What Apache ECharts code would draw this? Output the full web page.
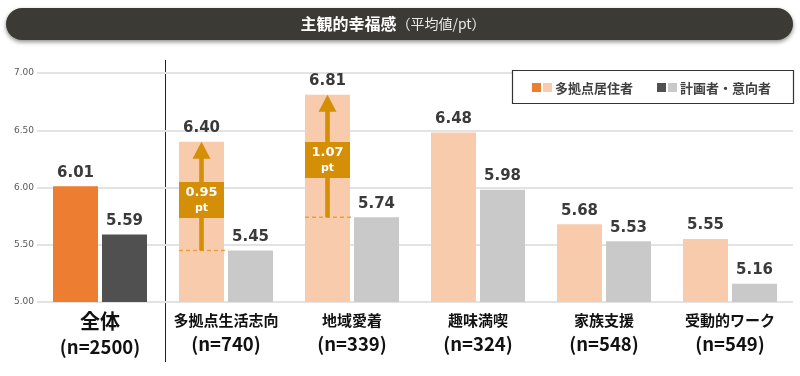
<!DOCTYPE html>
<html>
<head>
<meta charset="utf-8">
<script src="https://cdn.jsdelivr.net/npm/echarts@6/dist/echarts.min.js"></script>
<style>
  html, body { margin: 0; padding: 0; background: #fff; }
  #chart { width: 800px; height: 376px; }
</style>
</head>
<body>
<div id="chart"></div>
<script>
// data
const categories = ['全体', '多拠点生活志向', '地域愛着', '趣味満喫', '家族支援', '受動的ワーク'];
const sampleSizes = [2500, 740, 339, 324, 548, 549];
const residents = [6.01, 6.40, 6.81, 6.48, 5.68, 5.55];
const planners = [5.59, 5.45, 5.74, 5.98, 5.53, 5.16];
const highlighted = [1, 2];
const yTicks = [5, 5.5, 6, 6.5, 7];

const GOLD = '#D48F06';
const BAR_W = 45;
const BAR_GAP = 4;

const chartDom = document.getElementById('chart');
const myChart = echarts.init(chartDom);

const gapData = highlighted.map(i => [i, planners[i], residents[i], residents[i] - planners[i]]);

function renderGap(params, api) {
    const idx = api.value(0);
    const lo = api.coord([idx, api.value(1)]);
    const hi = api.coord([idx, api.value(2)]);
    const diff = api.value(3);
    const x = lo[0] - (BAR_W + BAR_GAP) / 2;
    const half = BAR_W / 2;
    const mid = (lo[1] + hi[1]) / 2 + 4;
    return {
        type: 'group',
        children: [
            {
                type: 'line',
                shape: { x1: x - half, y1: lo[1], x2: x + half + 3, y2: lo[1] },
                style: { stroke: '#E9A23B', lineWidth: 1.5, lineDash: [4, 3] }
            },
            {
                type: 'rect',
                shape: { x: x - 2.3, y: hi[1] + 15, width: 4.6, height: lo[1] - hi[1] - 15 },
                style: { fill: GOLD }
            },
            {
                type: 'polygon',
                shape: { points: [[x, hi[1]], [x - 9, hi[1] + 17], [x + 9, hi[1] + 17]] },
                style: { fill: GOLD }
            },
            {
                type: 'rect',
                shape: { x: x - half, y: mid - 18, width: BAR_W, height: 36 },
                style: { fill: GOLD }
            },
            {
                type: 'text',
                x: x,
                y: mid,
                style: {
                    text: '{a|' + diff.toFixed(2) + '}\n{b|pt}',
                    align: 'center',
                    verticalAlign: 'middle',
                    rich: {
                        a: { fill: '#fff', fontSize: 13, fontWeight: 'bold', fontFamily: 'DejaVu Sans', lineHeight: 16 },
                        b: { fill: '#fff', fontSize: 11, fontWeight: 'bold', fontFamily: 'DejaVu Sans', lineHeight: 14 }
                    }
                }
            }
        ]
    };
}

const valueLabel = {
    show: true,
    position: 'top',
    distance: 6,
    color: '#3a3a3a',
    fontSize: 15,
    fontWeight: 'bold',
    fontFamily: 'DejaVu Sans',
    formatter: p => p.value.toFixed(2)
};

const option = {
    animation: false,
    grid: { left: 37, right: 7, top: 73, bottom: 74 },
    xAxis: {
        type: 'category',
        data: categories,
        axisLine: { show: false },
        axisTick: { show: false },
        axisLabel: {
            margin: 7,
            interval: 0,
            formatter: function(value, i) {
                const n = '(n=' + sampleSizes[i] + ')';
                if (i === 0) return '{big|' + value + '}\n{bign|' + n + '}';
                return '{name|' + value + '}\n{n|' + n + '}';
            },
            rich: {
                big: { fontSize: 20, fontWeight: 'bold', color: '#111', fontFamily: 'Noto Sans CJK JP', lineHeight: 25 },
                bign: { fontSize: 18.5, fontWeight: 'bold', color: '#111', fontFamily: 'Noto Sans CJK JP', lineHeight: 26 },
                name: { fontSize: 15, fontWeight: 'bold', color: '#111', fontFamily: 'Noto Sans CJK JP', lineHeight: 23 },
                n: { fontSize: 18.5, fontWeight: 'bold', color: '#111', fontFamily: 'Noto Sans CJK JP', lineHeight: 23 }
            }
        }
    },
    yAxis: {
        type: 'value',
        min: yTicks[0],
        max: yTicks[yTicks.length - 1],
        interval: 0.5,
        axisLine: { show: false },
        axisTick: { show: false },
        axisLabel: {
            margin: 3,
            align: 'right',
            color: '#595959',
            fontSize: 9,
            fontFamily: 'DejaVu Sans',
            formatter: v => v.toFixed(2)
        },
        splitLine: { lineStyle: { color: '#E3E3E3', width: 2 } }
    },
    series: [
        {
            name: '多拠点居住者',
            type: 'bar',
            barWidth: BAR_W,
            barGap: (BAR_GAP / BAR_W * 100) + '%',
            data: residents.map((v, i) => ({
                value: v,
                itemStyle: { color: i === 0 ? '#ED7D31' : '#F8CBAD' }
            })),
            label: valueLabel
        },
        {
            name: '計画者・意向者',
            type: 'bar',
            barWidth: BAR_W,
            data: planners.map((v, i) => ({
                value: v,
                itemStyle: { color: i === 0 ? '#505050' : '#C9C9C9' }
            })),
            label: valueLabel
        },
        {
            type: 'custom',
            silent: true,
            z: 5,
            encode: { x: 0, y: [1, 2] },
            data: gapData,
            renderItem: renderGap
        }
    ],
    graphic: [
        {
            type: 'rect',
            shape: { x: 6, y: 8, width: 787, height: 32, r: 16 },
            style: { fill: '#3B3A35', shadowBlur: 4, shadowOffsetY: 2, shadowColor: 'rgba(0,0,0,0.45)' }
        },
        {
            type: 'text',
            x: 393,
            y: 24,
            style: {
                text: '{a|主観的幸福感}{b|（平均値/pt）}',
                align: 'center',
                verticalAlign: 'middle',
                rich: {
                    a: { fill: '#fff', fontSize: 16, fontWeight: 'bold', fontFamily: 'Noto Sans CJK JP' },
                    b: { fill: '#e8e8e8', fontSize: 14, fontFamily: 'Noto Sans CJK JP' }
                }
            }
        },
        {
            type: 'line',
            shape: { x1: 165.5, y1: 60, x2: 165.5, y2: 362 },
            style: { stroke: '#222', lineWidth: 1 }
        },
        {
            type: 'rect',
            z: 10,
            shape: { x: 512.5, y: 70.5, width: 281, height: 33 },
            style: { fill: '#fff', stroke: '#333', lineWidth: 1.2 }
        },
        { type: 'rect', z: 11, shape: { x: 532, y: 83, width: 9, height: 9 }, style: { fill: '#ED7D31' } },
        { type: 'rect', z: 11, shape: { x: 543, y: 83, width: 9, height: 9 }, style: { fill: '#F8CBAD' } },
        {
            type: 'text', z: 11, x: 555, y: 88,
            style: { text: '多拠点居住者', fill: '#404040', fontSize: 13, fontWeight: 'bold', fontFamily: 'Noto Sans CJK JP', verticalAlign: 'middle' }
        },
        { type: 'rect', z: 11, shape: { x: 657, y: 83, width: 9, height: 9 }, style: { fill: '#505050' } },
        { type: 'rect', z: 11, shape: { x: 668, y: 83, width: 9, height: 9 }, style: { fill: '#C9C9C9' } },
        {
            type: 'text', z: 11, x: 680, y: 88,
            style: { text: '計画者・意向者', fill: '#404040', fontSize: 13, fontWeight: 'bold', fontFamily: 'Noto Sans CJK JP', verticalAlign: 'middle' }
        }
    ]
};

myChart.setOption(option);
</script>
</body>
</html>
